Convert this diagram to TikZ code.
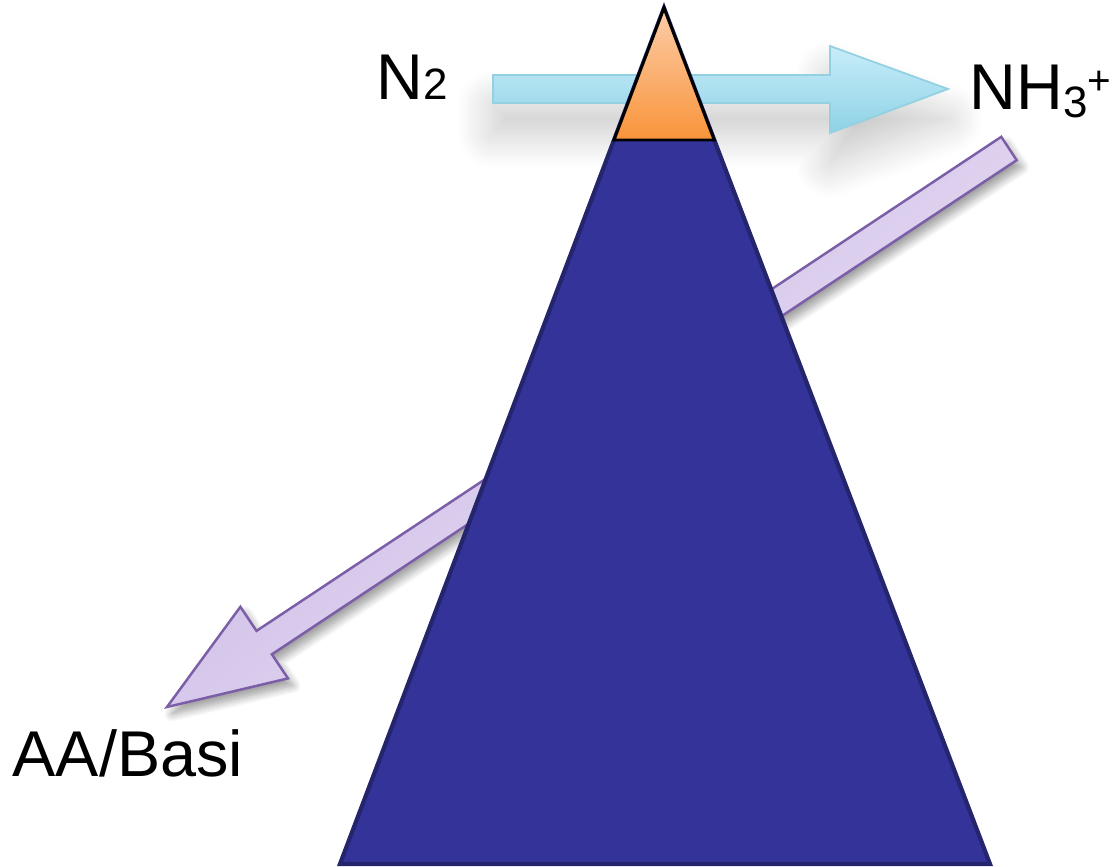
\documentclass[tikz,border=0pt]{standalone}
\usepackage{fontspec}
\setmainfont{Liberation Sans}
\usetikzlibrary{shadows.blur}

\definecolor{pyramid}{HTML}{333399}
\definecolor{pyramidline}{HTML}{25256E}
\definecolor{captop}{HTML}{FCCDA9}
\definecolor{capbot}{HTML}{F9943A}
\definecolor{inflowtop}{HTML}{C8EDF9}
\definecolor{inflowbot}{HTML}{8ED2E6}
\definecolor{inflowline}{HTML}{93D0E2}
\definecolor{outflowlight}{HTML}{ECE5F6}
\definecolor{outflowdark}{HTML}{C7B4E3}
\definecolor{outflowline}{HTML}{7B5EA7}

\begin{document}
\begin{tikzpicture}[x=0.01cm, y=-0.01cm,
    species/.style={inner sep=0pt, anchor=base west, font=\fontsize{18.4}{20}\selectfont}]
  \useasboundingbox (0,0) rectangle (1117,867);

  % N2 in, behind the pyramid
  \draw[inflowline, line width=0.5pt, top color=inflowtop, bottom color=inflowbot,
        blur shadow={shadow xshift=0cm, shadow yshift=-0.3cm, shadow blur radius=0.35cm, shadow blur steps=25, shadow opacity=22}]
    (493,75) -- (830,75) -- (830,46) -- (948,89) -- (830,133) -- (830,103) -- (493,103) -- cycle;

  % AA/bases out
  \coordinate (tailA) at (1016.7,160.2);
  \coordinate (tailB) at (1001.3,136.8);
  \coordinate (tip) at (167,707);
  \draw[outflowline, line width=0.7pt, top color=outflowdark, bottom color=outflowlight, shading angle=40,
        blur shadow={shadow xshift=0.05cm, shadow yshift=-0.07cm, shadow blur radius=0.08cm, shadow blur steps=12, shadow opacity=40}]
    (tailA) -- (271.9,654.3) -- (288.0,678.4) -- (tip) -- (240.4,606.8) -- (256.5,630.9) -- (tailB) -- cycle;

  % pyramid and cap
  \draw[pyramidline, line width=1.2pt, fill=pyramid] (664,8) -- (990,864) -- (340,864) -- cycle;
  \draw[black, line width=0.85pt, top color=captop, bottom color=capbot] (664,8) -- (714.3,140) -- (614,140) -- cycle;

  \node[species] (n2) at (376,100) {N{\fontsize{12.5}{12}\selectfont 2}};
  \node[species] (nh3) at (969,110) {NH\raisebox{-2pt}{\fontsize{12.5}{12}\selectfont 3}\raisebox{4.5pt}{\fontsize{11.5}{11}\selectfont +}};
  \node[species] (aa) at (12,777) {AA/Basi};
\end{tikzpicture}
\end{document}
